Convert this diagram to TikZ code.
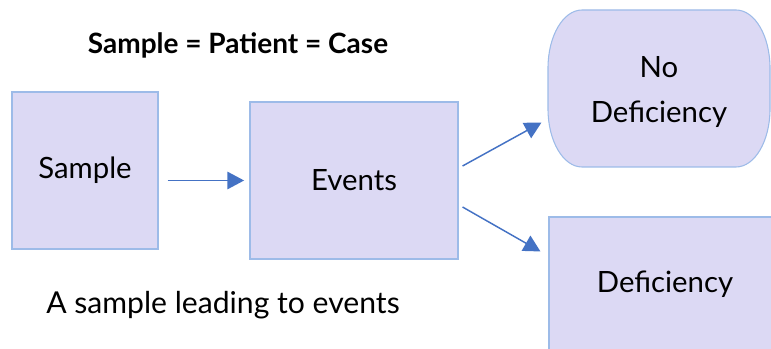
\documentclass[tikz,border=0pt]{standalone}
\usepackage{fontspec}
\setmainfont{Lato}
\usepackage{tikz}
\usetikzlibrary{calc,arrows.meta}

\definecolor{boxfill}{HTML}{DCD9F4}
\definecolor{boxline}{HTML}{9DBBE8}
\definecolor{arrowblue}{HTML}{4472C4}

\begin{document}
\begin{tikzpicture}[x=0.75pt,y=0.75pt,
  box/.style={draw=boxline,fill=boxfill,line width=0.8pt,inner sep=0pt,font=\fontsize{22}{27}\selectfont},
  arr/.style={draw=arrowblue,line width=1.1pt,-{Triangle[length=12.5pt,width=13pt]}}]
\useasboundingbox (0,0) rectangle (771,349);
\clip (0,0) rectangle (771,349);

% Boxes
\node[box,minimum width=146*0.75pt,minimum height=157*0.75pt] (sample) at (85,178.5) {Sample};
\node[box,minimum width=208*0.75pt,minimum height=157*0.75pt] (events) at (354,168.5) {Events};
\node[box,minimum width=232*0.75pt,minimum height=134*0.75pt] (def) at (665,65) {Deficiency};

% Rounded outcome box
\fill[boxfill,draw=boxline,line width=0.8pt] (582,339) -- (736,339)
  arc[start angle=90,end angle=0,x radius=34,y radius=58] -- (770,240)
  arc[start angle=0,end angle=-90,x radius=34,y radius=58] -- (582,182)
  arc[start angle=270,end angle=180,x radius=34,y radius=58] -- (548,281)
  arc[start angle=180,end angle=90,x radius=34,y radius=58] -- cycle;
\node[box,draw=none,fill=none,minimum width=222*0.75pt,minimum height=157*0.75pt,align=center] (nodef) at (659,257) {No\\[7pt]Deficiency};

% Arrows
\draw[arr] (sample.east |- events.west) ++(9,0) -- ([xshift=-4]events.west);
\draw[arr] ([shift={(4,14.5)}]events.east) -- ([shift={(-6,48.5)}]nodef.south west);
\draw[arr] ([shift={(4,-26.5)}]events.east) -- ([shift={(-8,-35)}]def.north west);

% Labels
\node[font=\bfseries\fontsize{21}{25}\selectfont] (title) at (238,304) {Sample = Patient = Case};
\node[font=\fontsize{22.6}{27}\selectfont] (caption) at (223,44) {A sample leading to events};
\end{tikzpicture}
\end{document}
